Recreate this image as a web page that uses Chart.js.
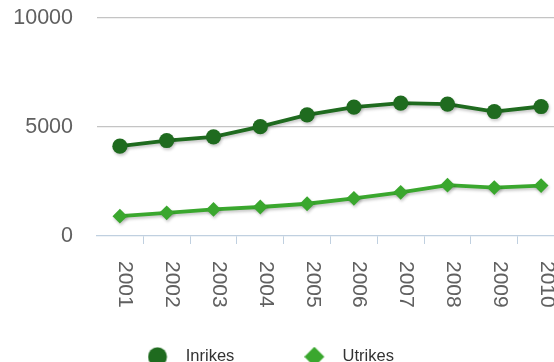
<!DOCTYPE html>
<html>
<head>
<meta charset="utf-8">
<script src="https://cdn.jsdelivr.net/npm/chart.js@4"></script>
<style>
  html, body { margin: 0; padding: 0; background: #fff; overflow: hidden; }
  #wrap { width: 580px; height: 375px; }
</style>
</head>
<body>
<div id="wrap"><canvas id="resor" width="580" height="375"></canvas></div>
<script>
const years = ['2001', '2002', '2003', '2004', '2005', '2006', '2007', '2008', '2009', '2010'];
const inrikes = [4120, 4380, 4550, 5015, 5555, 5910, 6095, 6050, 5710, 5940];
const utrikes = [910, 1065, 1220, 1330, 1480, 1730, 2005, 2330, 2220, 2315];
const yTicks = [0, 5000, 10000];

const darkGreen = '#1f6b1f';
const lightGreen = '#3aa72e';
const FONT = '"Liberation Sans", Arial, Helvetica, sans-serif';

// legend symbols: marker sits in the left part of a wider box so the text gets some air
function legendSymbol(kind, color) {
    const c = document.createElement('canvas');
    c.width = 30;
    c.height = 20;
    const g = c.getContext('2d');
    g.fillStyle = color;
    g.beginPath();
    if (kind === 'circle') {
        g.arc(10, 10, 9.5, 0, Math.PI * 2);
    } else {
        g.moveTo(0, 10);
        g.lineTo(10, 0);
        g.lineTo(20, 10);
        g.lineTo(10, 20);
        g.closePath();
    }
    g.fill();
    return c;
}
const symbols = [legendSymbol('circle', darkGreen), legendSymbol('diamond', lightGreen)];

// soft drop shadow under the series
const lineShadow = {
    id: 'lineShadow',
    beforeDatasetDraw(chart) {
        const ctx = chart.ctx;
        ctx.save();
        ctx.shadowColor = 'rgba(0, 0, 0, 0.22)';
        ctx.shadowOffsetX = 1;
        ctx.shadowOffsetY = 2;
        ctx.shadowBlur = 3;
    },
    afterDatasetDraw(chart) {
        chart.ctx.restore();
    }
};

// start the legend row a bit further right than the layout gives it
const legendShift = {
    id: 'legendShift',
    afterLayout(chart) {
        chart.legend.left = 77.5;
    }
};

// year labels turned clockwise, reading top to bottom
const yearLabels = {
    id: 'yearLabels',
    afterDraw(chart) {
        const ctx = chart.ctx;
        const x = chart.scales.x;
        ctx.save();
        ctx.font = '21px ' + FONT;
        ctx.fillStyle = '#606060';
        ctx.textAlign = 'left';
        ctx.textBaseline = 'alphabetic';
        x.ticks.forEach((t, i) => {
            ctx.save();
            ctx.translate(x.getPixelForTick(i) - 0.5, x.top + 25);
            ctx.rotate(Math.PI / 2);
            ctx.fillText(x.getLabelForValue(t.value), 0, 0);
            ctx.restore();
        });
        ctx.restore();
    }
};

new Chart(document.getElementById('resor'), {
    type: 'line',
    data: {
        labels: years,
        datasets: [{
            label: 'Inrikes',
            data: inrikes,
            borderColor: darkGreen,
            backgroundColor: darkGreen,
            borderWidth: 3.8,
            pointStyle: 'circle',
            pointRadius: 7.6,
            pointBorderWidth: 0,
            pointBackgroundColor: darkGreen,
            tension: 0
        }, {
            label: 'Utrikes',
            data: utrikes,
            borderColor: lightGreen,
            backgroundColor: lightGreen,
            borderWidth: 3.8,
            pointStyle: 'rectRot',
            pointRadius: 7.4,
            pointBorderWidth: 0,
            pointBackgroundColor: lightGreen,
            tension: 0
        }]
    },
    options: {
        responsive: false,
        animation: false,
        devicePixelRatio: 1,
        layout: {
            padding: { left: 0, right: 15.5, top: 18, bottom: 0 }
        },
        plugins: {
            tooltip: { enabled: false },
            legend: {
                position: 'bottom',
                align: 'start',
                labels: {
                    usePointStyle: true,
                    pointStyleWidth: 30,
                    padding: 70,
                    color: '#333333',
                    font: { family: FONT, size: 16.5 },
                    generateLabels(chart) {
                        const items = Chart.defaults.plugins.legend.labels.generateLabels(chart);
                        items.forEach((item, i) => { item.pointStyle = symbols[i]; });
                        return items;
                    }
                }
            }
        },
        scales: {
            x: {
                type: 'category',
                offset: true,
                ticks: { display: false },
                grid: {
                    offset: true,
                    drawOnChartArea: false,
                    drawTicks: true,
                    tickLength: 8,
                    tickWidth: 1,
                    color: '#c0d0e0',
                    tickColor: (ctx) => ctx.index === 0 ? 'rgba(0,0,0,0)' : '#c0d0e0'
                },
                border: { display: true, color: '#c0d0e0', width: 1.3 },
                afterFit(scale) { scale.height = 42.5; }
            },
            y: {
                min: 0,
                max: 10000,
                afterBuildTicks(scale) {
                    scale.ticks = yTicks.map(v => ({ value: v }));
                },
                ticks: {
                    color: '#606060',
                    padding: 0,
                    font: { family: FONT, size: 21.5 },
                    callback: (v) => String(v)
                },
                grid: {
                    drawTicks: true,
                    tickLength: 23.5,
                    tickColor: 'rgba(0,0,0,0)',
                    lineWidth: 1.2,
                    color: (ctx) => ctx.tick && ctx.tick.value === 0 ? 'rgba(0,0,0,0)' : '#c4c4c4'
                },
                border: { display: false },
                afterFit(scale) { scale.width = 96.5; }
            }
        }
    },
    plugins: [lineShadow, legendShift, yearLabels]
});
</script>
</body>
</html>
